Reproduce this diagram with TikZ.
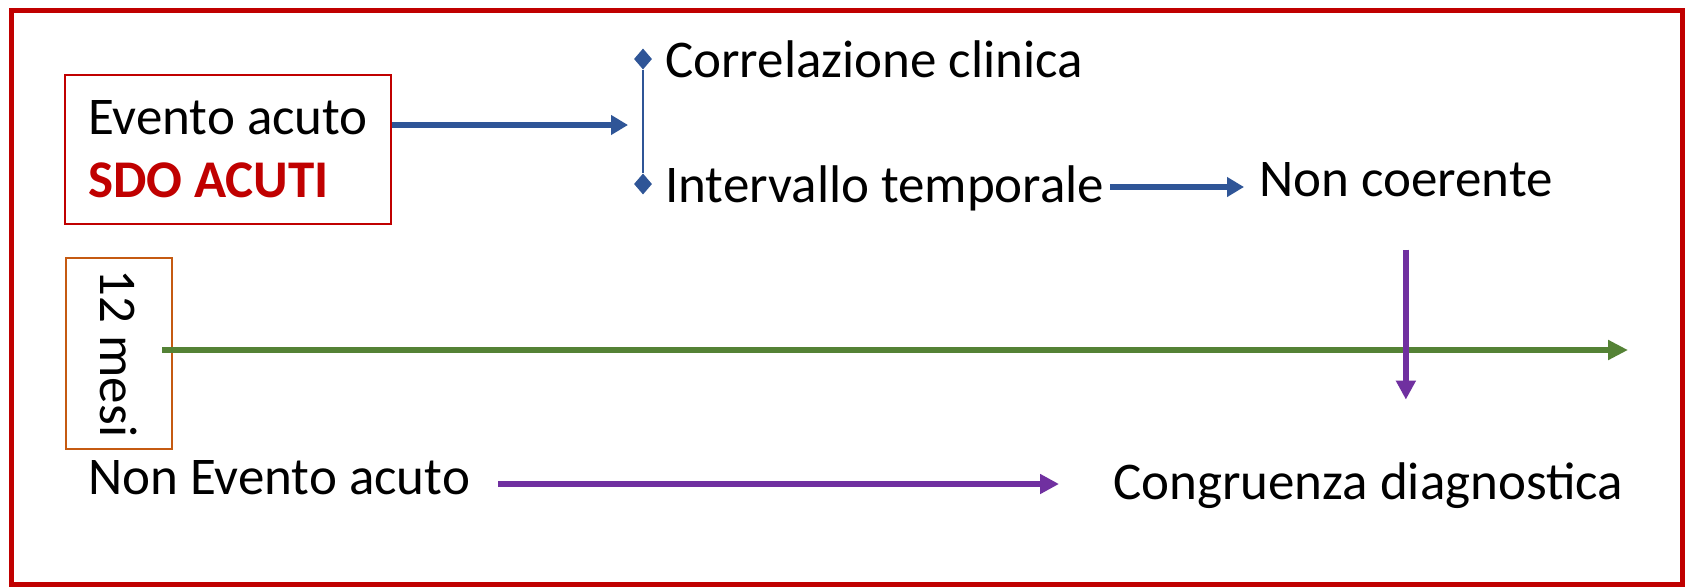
\documentclass[tikz,border=0pt]{standalone}
\usepackage{fontspec}
\setmainfont{Carlito}
\usetikzlibrary{arrows.meta,shapes.geometric}
\definecolor{cblue}{HTML}{2F5597}
\definecolor{cgreen}{HTML}{548235}
\definecolor{cpurple}{HTML}{7030A0}
\definecolor{cred}{HTML}{C00000}
\definecolor{corange}{HTML}{C55A11}
\begin{document}
\begin{tikzpicture}[x=1pt,y=-1pt,
  bigfont/.style={font=\fontsize{53}{63}\selectfont},
  txt/.style={bigfont, inner sep=0pt, anchor=base west},
  bluearrow/.style={draw=cblue, line width=6pt, -{Triangle[length=17pt,width=19pt]}},
  greenarrow/.style={draw=cgreen, line width=6.5pt, -{Triangle[length=20pt,width=19pt]}},
  purplearrow/.style={draw=cpurple, line width=6pt, -{Triangle[length=19pt,width=19pt]}},
  dia/.style={diamond, fill=cblue, inner sep=0pt, minimum width=18pt, minimum height=21pt}]
\useasboundingbox (0,0) rectangle (1686,587);
\fill[white] (0,0) rectangle (1686,587);
% outer frame
\draw[cred, line width=5pt] (11,10) rectangle (1682,584);
% boxes
\node[draw=cred, line width=1.5pt, minimum width=326pt, minimum height=149pt,
      align=left, bigfont, inner sep=0pt] (acute) at (228,149.5)
      {Evento acuto\\\textcolor{cred}{\textbf{SDO ACUTI}}};
\node[draw=corange, line width=2pt, rotate=-90, minimum width=191pt, minimum height=106pt,
      bigfont, inner sep=0pt] (mesi) at (119,353.5) {12 mesi};
% texts
\node[txt] (corr) at (665,77) {Correlazione clinica};
\node[txt] (interv) at (665,202) {Intervallo temporale};
\node[txt] (noncoer) at (1259,196) {Non coerente};
\node[txt] (nonev) at (88,494) {Non Evento acuto};
\node[txt] (congr) at (1113,499) {Congruenza diagnostica};
% bracket
\node[dia] (d1) at (643,59) {};
\node[dia] (d2) at (643,184) {};
\draw[cblue, line width=1.5pt] (d1) -- (d2);
\coordinate (brk) at (628,125);
\draw[bluearrow] (acute.east |- brk) -- (brk);
% intervallo -> non coerente
\draw[bluearrow] ([xshift=6pt,yshift=15pt]interv.base east) -- ([xshift=-15pt,yshift=15pt]interv.base east -| noncoer.west);
% timeline
\coordinate (g0) at (162,350);
\coordinate (g1) at (1628,350);
\draw[greenarrow] (g0) -- (g1);
% non coerente -> down
\draw[purplearrow] ([yshift=-53pt]noncoer.south) -- ([yshift=-203pt]noncoer.south);
% non evento -> congruenza
\draw[purplearrow] ([xshift=28pt,yshift=10pt]nonev.base east) -- ([xshift=-54pt,yshift=10pt]nonev.base east -| congr.west);
\end{tikzpicture}
\end{document}
